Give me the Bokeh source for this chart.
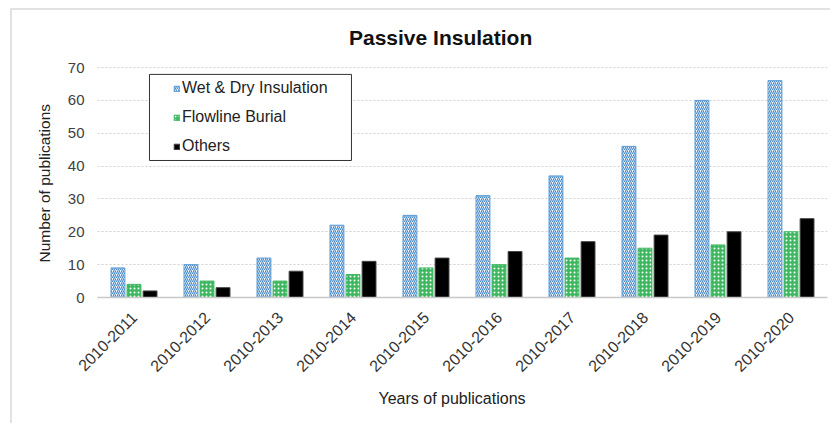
from bokeh.plotting import figure
from bokeh.models import ColumnDataSource, FactorRange, Legend, LegendItem, BoxAnnotation, Title, Label, Range1d
from bokeh.transform import dodge
from bokeh.embed import file_html
from bokeh.resources import INLINE

years = ["2010-2011", "2010-2012", "2010-2013", "2010-2014", "2010-2015",
         "2010-2016", "2010-2017", "2010-2018", "2010-2019", "2010-2020"]
wet_dry = [9, 10, 12, 22, 25, 31, 37, 46, 60, 66]
flowline = [4, 5, 5, 7, 9, 10, 12, 15, 16, 20]
others = [2, 3, 8, 11, 12, 14, 17, 19, 20, 24]
y_ticks = [0, 10, 20, 30, 40, 50, 60, 70]

src = ColumnDataSource(dict(years=years, wet=wet_dry, flow=flowline, oth=others))

FONT = "Liberation Sans"
# the frame extends above 70 so that the title can sit inside it
p = figure(x_range=FactorRange(*years, range_padding=0), y_range=Range1d(0, 87.35),
           width=820, height=415, output_backend="svg", toolbar_location=None,
           min_border_left=85, min_border_right=5, min_border_top=0, min_border_bottom=128)
p.styles = {"margin-left": "10px", "margin-top": "8px",
            "border-left": "2px solid #e2e2e2", "border-top": "2px solid #e2e2e2"}

r1 = p.vbar(x=dodge("years", -0.22, range=p.x_range), top="wet", width=0.19, source=src,
            fill_color="white", line_color="#5B9BD5", line_width=1,
            hatch_pattern="right_diagonal_line", hatch_color="#4A8CCB", hatch_scale=4, hatch_weight=1.2)
r2 = p.vbar(x=dodge("years", 0.0, range=p.x_range), top="flow", width=0.19, source=src,
            fill_color="#3DB860", line_color="#3DB860", line_width=1,
            hatch_pattern="dot", hatch_color="white", hatch_scale=4, hatch_weight=2)
r3 = p.vbar(x=dodge("years", 0.22, range=p.x_range), top="oth", width=0.19, source=src,
            fill_color="black", line_color="#444444", line_width=1)

title = Label(x=4.70, y=79.2, text="Passive Insulation", text_align="center",
              text_baseline="alphabetic", text_font=FONT, text_font_size="21px",
              text_font_style="bold", text_color="#111111")
p.add_layout(title)

p.outline_line_color = None
p.xgrid.grid_line_color = None
p.ygrid.grid_line_color = "#d0d0d0"
p.ygrid.grid_line_dash = "2 2"
p.yaxis.ticker = y_ticks
p.yaxis.axis_line_color = None
p.yaxis.major_tick_line_color = None
p.yaxis.minor_tick_line_color = None
p.yaxis.major_label_text_font = FONT
p.yaxis.major_label_text_font_size = "15px"
p.yaxis.major_label_text_color = "#404040"
p.yaxis.major_label_standoff = 7

ylab = Title(text="Number of publications", align="left", offset=35, standoff=24,
             text_font=FONT, text_font_size="15.5px", text_font_style="normal", text_color="#222222")
p.add_layout(ylab, "left")

p.xaxis.axis_line_color = "#c8c8c8"
p.xaxis.axis_line_width = 1.5
p.xaxis.major_tick_line_color = None
p.xaxis.minor_tick_line_color = None
p.xaxis.major_label_orientation = 0.785
p.xaxis.major_label_text_font = FONT
p.xaxis.major_label_text_font_size = "16px"
p.xaxis.major_label_text_color = "#333333"
p.xaxis.major_label_standoff = 11

xlab = Title(text="Years of publications", align="left", offset=281, standoff=14,
             text_font=FONT, text_font_size="16px", text_font_style="normal", text_color="#222222")
p.add_layout(xlab, "below")

# legend frame (drawn separately so the inner left gap can be wider than the padding)
frame_box = BoxAnnotation(left=0.712, right=3.479, top=67.9, bottom=41.7,
                          fill_color="white", fill_alpha=1,
                          line_color="#333333", line_width=1, line_alpha=1)
p.add_layout(frame_box)

legend = Legend(items=[LegendItem(label="Wet & Dry Insulation", renderers=[r1]),
                       LegendItem(label="Flowline Burial", renderers=[r2]),
                       LegendItem(label="Others", renderers=[r3])],
                location=(76, 141))
legend.border_line_color = None
legend.background_fill_alpha = 0
legend.label_text_font = FONT
legend.label_text_font_size = "16px"
legend.label_text_color = "#222222"
legend.glyph_width = 7
legend.glyph_height = 7
legend.label_height = 20
legend.spacing = 9
legend.padding = 4
legend.margin = 0
legend.label_standoff = 2
p.add_layout(legend, "center")

open("out.html", "w").write(file_html(p, INLINE))
